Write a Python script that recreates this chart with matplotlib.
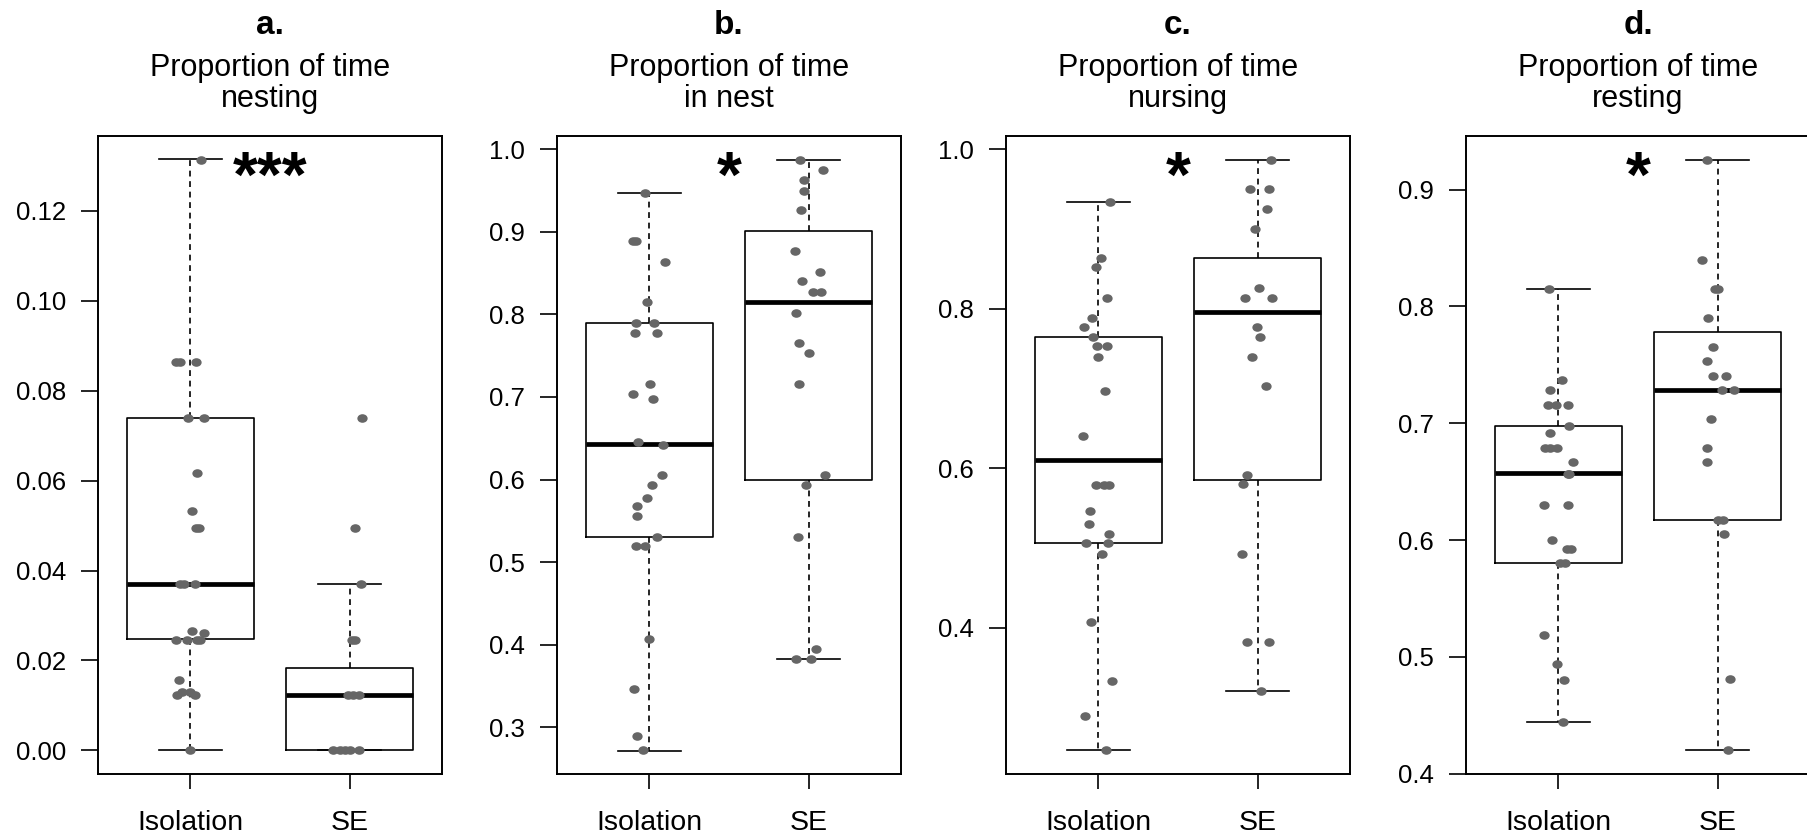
import numpy as np
import matplotlib
matplotlib.use("Agg")
import matplotlib.pyplot as plt
from matplotlib.path import Path
from matplotlib.transforms import Affine2D

plt.rcParams['font.family'] = ['Liberation Sans', 'DejaVu Sans']

groups = ['Isolation', 'SE']
letters = ['a.', 'b.', 'c.', 'd.']
titles = ['nesting', 'in nest', 'nursing', 'resting']
stars = ['***', '*', '*', '*']

# panel a - nesting
a_iso = [0.1314, 0.0863, 0.0863, 0.0863, 0.074, 0.074, 0.0617, 0.0533, 0.0494, 0.0494,
         0.037, 0.037, 0.037, 0.0266, 0.0262, 0.0246, 0.0246, 0.0246, 0.0246, 0.0156,
         0.0123, 0.0129, 0.0129, 0.0123, 0.0]
a_iso_jit = [0.065, -0.088, -0.067, 0.034, -0.013, 0.088, 0.040, 0.010, 0.038, 0.055,
             -0.067, -0.042, 0.027, 0.013, 0.088, -0.088, -0.019, 0.042, 0.063, -0.073,
             -0.082, -0.050, -0.004, 0.031, 0.0]
a_se = [0.074, 0.0494, 0.037, 0.0246, 0.0246, 0.0123, 0.0123, 0.0123, 0.0, 0.0, 0.0, 0.0, 0.0]
a_se_jit = [0.078, 0.036, 0.069, 0.013, 0.034, -0.008, 0.023, 0.061, -0.103, -0.061, -0.029, 0.002, 0.061]
# q1, median, q3, lower whisker, upper whisker
a_box = [(0.0247, 0.037, 0.074, 0.0, 0.1316), (0.0, 0.0123, 0.0184, 0.0, 0.037)]
a_ticks = [0.00, 0.02, 0.04, 0.06, 0.08, 0.10, 0.12]
a_ticklabels = ['0.00', '0.02', '0.04', '0.06', '0.08', '0.10', '0.12']

# panel b - in nest
b_iso = [0.947, 0.889, 0.889, 0.864, 0.815, 0.790, 0.790, 0.778, 0.778, 0.716, 0.704, 0.698,
         0.645, 0.642, 0.605, 0.593, 0.578, 0.568, 0.556, 0.530, 0.520, 0.520, 0.407, 0.346,
         0.290, 0.272]
b_iso_jit = [-0.029, -0.100, -0.085, 0.099, -0.017, -0.084, 0.029, -0.088, 0.050, 0.002, -0.100,
             0.025, -0.071, 0.086, 0.082, 0.015, -0.017, -0.078, -0.078, 0.050, -0.084, -0.027,
             -0.004, -0.094, -0.080, -0.042]
b_se = [0.9875, 0.975, 0.963, 0.950, 0.926, 0.877, 0.852, 0.840, 0.827, 0.827, 0.802, 0.765,
        0.753, 0.716, 0.605, 0.593, 0.530, 0.395, 0.383, 0.383]
b_se_jit = [-0.057, 0.088, -0.031, -0.027, -0.046, -0.084, 0.069, -0.042, 0.027, 0.080, -0.078,
            -0.059, 0.004, -0.059, 0.100, -0.015, -0.067, 0.046, -0.078, 0.017]
b_box = [(0.531, 0.6436, 0.790, 0.2718, 0.947), (0.599, 0.815, 0.901, 0.383, 0.9875)]
b_ticks = [0.3, 0.4, 0.5, 0.6, 0.7, 0.8, 0.9, 1.0]
b_ticklabels = ['0.3', '0.4', '0.5', '0.6', '0.7', '0.8', '0.9', '1.0']

# panel c - nursing
c_iso = [0.9335, 0.864, 0.852, 0.814, 0.789, 0.777, 0.765, 0.753, 0.753, 0.740, 0.697, 0.641,
         0.5795, 0.5795, 0.5795, 0.546, 0.5305, 0.518, 0.506, 0.506, 0.493, 0.407, 0.333,
         0.289, 0.2465]
c_iso_jit = [0.076, 0.019, -0.017, 0.057, -0.040, -0.088, -0.032, -0.008, 0.053, 0.0, 0.044,
             -0.097, -0.017, 0.036, 0.069, -0.055, -0.061, 0.069, -0.078, 0.061, 0.023, -0.048,
             0.088, -0.086, 0.048]
c_se = [0.987, 0.950, 0.950, 0.925, 0.9005, 0.8265, 0.814, 0.814, 0.777, 0.765, 0.740, 0.703,
        0.592, 0.580, 0.493, 0.382, 0.382, 0.3205]
c_se_jit = [0.086, -0.048, 0.071, 0.061, -0.017, 0.011, -0.080, 0.088, -0.002, 0.013, -0.034,
            0.050, -0.069, -0.090, -0.097, -0.069, 0.071, 0.019]
c_box = [(0.506, 0.611, 0.765, 0.2465, 0.9335), (0.586, 0.796, 0.8637, 0.3205, 0.987)]
c_ticks = [0.4, 0.6, 0.8, 1.0]
c_ticklabels = ['0.4', '0.6', '0.8', '1.0']

# panel d - resting
d_iso = [0.8147, 0.737, 0.7285, 0.716, 0.716, 0.716, 0.6977, 0.6914, 0.679, 0.679, 0.679,
         0.6666, 0.657, 0.657, 0.630, 0.630, 0.600, 0.5926, 0.5926, 0.580, 0.580, 0.5186,
         0.4937, 0.480, 0.4446]
d_iso_jit = [-0.057, 0.023, -0.052, -0.065, -0.013, 0.061, 0.065, -0.055, -0.084, -0.052, -0.010,
             0.094, 0.061, 0.069, -0.088, 0.061, -0.038, 0.052, 0.078, 0.010, 0.042, -0.088,
             -0.006, 0.036, 0.027]
d_se = [0.9257, 0.8395, 0.8147, 0.8147, 0.790, 0.7653, 0.7533, 0.7408, 0.7408, 0.7285, 0.7285,
        0.704, 0.679, 0.6666, 0.6174, 0.6174, 0.605, 0.4814, 0.420]
d_se_jit = [-0.069, -0.096, -0.017, 0.004, -0.061, -0.031, -0.067, -0.029, 0.055, 0.027, 0.100,
            -0.040, -0.067, -0.067, 0.002, 0.031, 0.038, 0.075, 0.067]
d_box = [(0.5803, 0.6572, 0.6974, 0.4446, 0.8147), (0.6174, 0.7285, 0.7779, 0.420, 0.9257)]
d_ticks = [0.4, 0.5, 0.6, 0.7, 0.8, 0.9]
d_ticklabels = ['0.4', '0.5', '0.6', '0.7', '0.8', '0.9']

panels = [
    (a_iso, a_iso_jit, a_se, a_se_jit, a_box, a_ticks, a_ticklabels),
    (b_iso, b_iso_jit, b_se, b_se_jit, b_box, b_ticks, b_ticklabels),
    (c_iso, c_iso_jit, c_se, c_se_jit, c_box, c_ticks, c_ticklabels),
    (d_iso, d_iso_jit, d_se, d_se_jit, d_box, d_ticks, d_ticklabels),
]

W, H = 1807, 836
fig = plt.figure(figsize=(W / 100, H / 100), dpi=100)

lefts = [98, 557, 1006, 1466]
ax_w, ax_top, ax_bot = 344, 136, 774

# slightly wide dots, like the reference
dot = Path.unit_circle().transformed(Affine2D().scale(1.2, 1.0))
dot_col = '#666666'

for i, (iso, iso_j, se, se_j, box, ticks, ticklabels) in enumerate(panels):
    ax = fig.add_axes([lefts[i] / W, (H - ax_bot) / H, ax_w / W, (ax_bot - ax_top) / H])

    stats = []
    for g, (q1, med, q3, lo, hi) in zip(groups, box):
        stats.append(dict(label=g, q1=q1, med=med, q3=q3, whislo=lo, whishi=hi, fliers=[]))
    ax.bxp(stats, positions=[1, 2], widths=0.8, capwidths=0.4, showfliers=False,
           boxprops=dict(color='black', linewidth=1.2),
           medianprops=dict(color='black', linewidth=3.4, solid_capstyle='butt'),
           whiskerprops=dict(color='black', linewidth=1.2, linestyle=(0, (3.5, 2.8))),
           capprops=dict(color='black', linewidth=1.2))

    ax.scatter(1 + np.array(iso_j), iso, s=55, marker=dot, color=dot_col, linewidths=0, zorder=5)
    ax.scatter(2 + np.array(se_j), se, s=55, marker=dot, color=dot_col, linewidths=0, zorder=5)

    allv = np.array(iso + se)
    lo, hi = allv.min(), allv.max()
    pad = 0.04 * (hi - lo)
    ax.set_ylim(lo - pad, hi + pad)
    ax.set_xlim(0.42, 2.58)

    ax.set_yticks(ticks)
    ax.set_yticklabels(ticklabels)
    ax.set_xticks([1, 2])
    ax.set_xticklabels(groups)
    ax.tick_params(axis='y', length=12, width=1.2, pad=11, labelsize=18.5)
    ax.tick_params(axis='x', length=11, width=1.2, pad=15, labelsize=20.5)
    for sp in ax.spines.values():
        sp.set_linewidth(1.4)

    ax.text(1.5, 0.905, stars[i], transform=ax.get_xaxis_transform(), ha='center',
            va='baseline', fontsize=46, fontweight='bold')

    cx = 0.5
    ax.text(cx, 1.160, letters[i], transform=ax.transAxes, ha='center', va='baseline',
            fontsize=24, fontweight='bold')
    ax.text(cx, 1.094, 'Proportion of time', transform=ax.transAxes, ha='center',
            va='baseline', fontsize=22)
    ax.text(cx, 1.0455, titles[i], transform=ax.transAxes, ha='center',
            va='baseline', fontsize=22)

fig.savefig('out.png', dpi=100)
